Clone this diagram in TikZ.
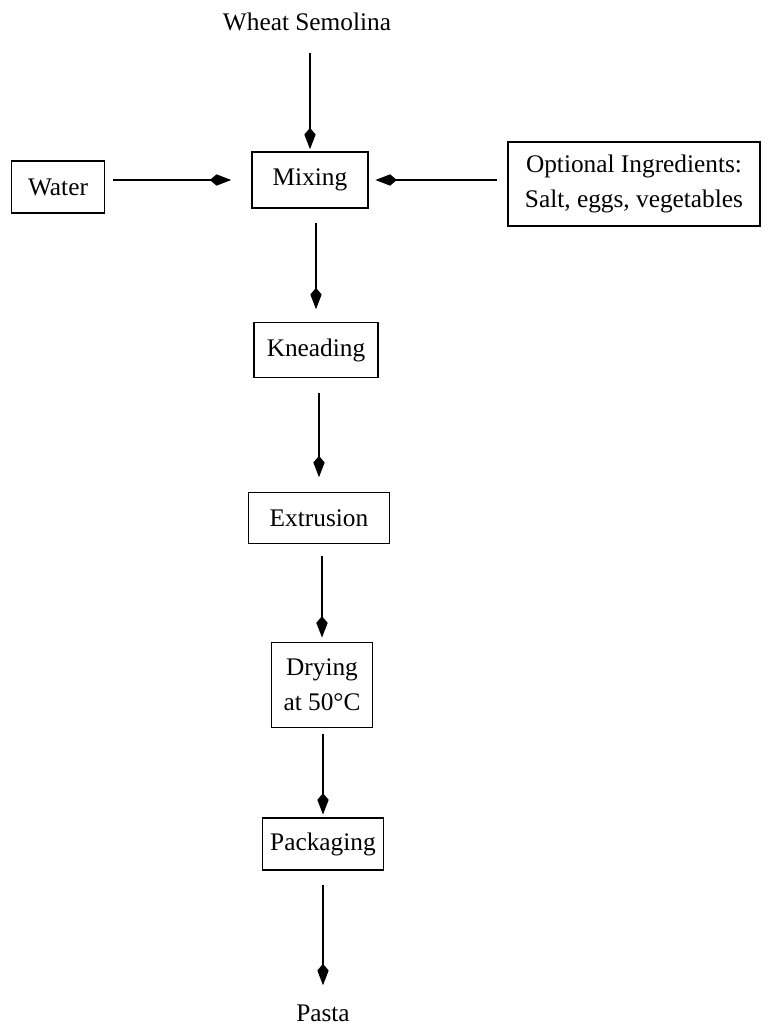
\documentclass[tikz,border=0pt]{standalone}
\usepackage{fontspec}
\setmainfont{Liberation Serif}
\usetikzlibrary{arrows.meta}
\tikzset{
  stage/.style={draw, line width=1.2pt, align=center, inner sep=2pt},
  flow/.style={-{Kite[length=16pt,width=8.5pt,inset=5pt]}, line width=1.2pt},
}
\begin{document}
\begin{tikzpicture}[x=0.75pt, y=-0.75pt, font=\fontsize{19}{26}\selectfont]
    \useasboundingbox (0,0) rectangle (768,1031);
    % inputs
    \node (semolina) at (307,22) {Wheat Semolina};
    \node [stage, minimum width=70pt, minimum height=39pt] (water) at (58,187) {Water};
    \node [stage, minimum width=87pt, minimum height=42pt] (mixing) at (310,180) {Mixing};
    \node [stage, minimum width=189pt, minimum height=63pt] (optional) at (634,184)
        {Optional Ingredients:\\Salt, eggs, vegetables};
    % process steps
    \node [stage, minimum width=93pt, minimum height=41pt] (kneading) at (316,350) {Kneading};
    \node [stage, minimum width=106pt, minimum height=38pt] (extrusion) at (319,518) {Extrusion};
    \node [stage, minimum width=76pt, minimum height=64pt] (drying) at (322,685) {Drying\\at 50°C};
    \node [stage, minimum width=91pt, minimum height=39pt] (packaging) at (323,844) {Packaging};
    \node (pasta) at (323,1013) {Pasta};
    % arrows
    \draw [flow, shorten <=13pt, shorten >=1.5pt] (mixing |- semolina.south) -- (mixing.north);
    \draw [flow, shorten <=6pt, shorten >=15pt] (water.east |- mixing) -- (mixing.west);
    \draw [flow, shorten <=7.5pt, shorten >=5pt] (optional.west |- mixing) -- (mixing.east);
    \draw [flow, shorten <=10.5pt, shorten >=9.5pt] (kneading |- mixing.south) -- (kneading.north);
    \draw [flow, shorten <=11pt, shorten >=11pt] (extrusion |- kneading.south) -- (extrusion.north);
    \draw [flow, shorten <=9pt, shorten >=3pt] (drying |- extrusion.south) -- (drying.north);
    \draw [flow, shorten <=4pt, shorten >=2pt] (packaging |- drying.south) -- (packaging.north);
    \draw [flow, shorten <=11pt, shorten >=11pt] (pasta |- packaging.south) -- (pasta.north);
\end{tikzpicture}
\end{document}
